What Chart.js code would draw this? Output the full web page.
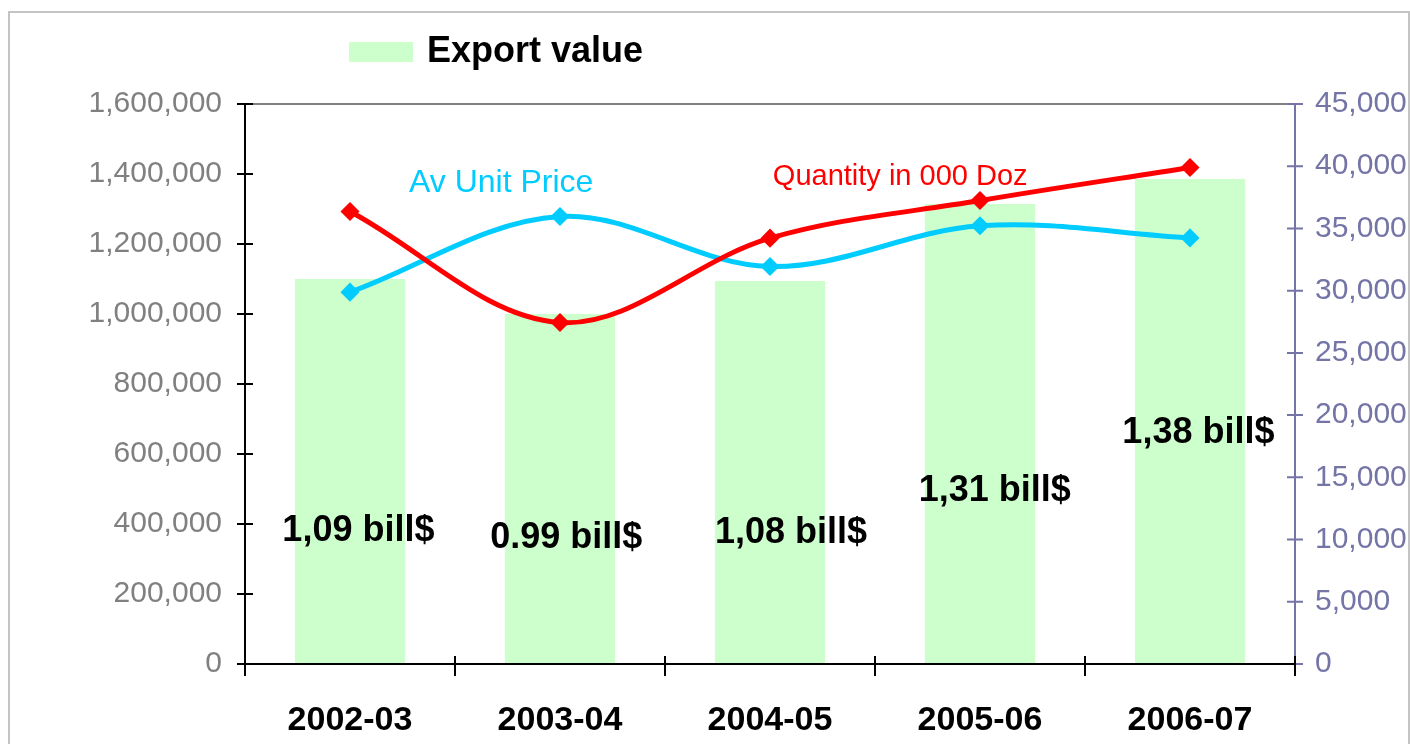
<!DOCTYPE html>
<html>
<head>
<meta charset="utf-8">
<script src="https://cdn.jsdelivr.net/npm/chart.js@4.4.1/dist/chart.umd.min.js"></script>
<style>
  html, body { margin: 0; padding: 0; background: #fff; }
  #wrap { width: 1410px; height: 744px; position: relative; }
</style>
</head>
<body>
<div id="wrap"><canvas id="chart" width="1410" height="744"></canvas></div>
<script>
const years = ['2002-03', '2003-04', '2004-05', '2005-06', '2006-07'];
const exportValue = [1100000, 1000000, 1094000, 1314000, 1386000];
const quantity = [36360, 27440, 34220, 37240, 39900];
const unitPrice = [29880, 35960, 31940, 35210, 34240];
const barNotes = ['1,09 bill$', '0.99 bill$', '1,08 bill$', '1,31 bill$', '1,38 bill$'];

const FONT = '"Liberation Sans", Arial, sans-serif';
const RIGHT_AXIS = '#7474a6';

// where the free text sits: category index (fractional) and axis value
const notePlaces = [
  { i: 0.04, v: 380000 }, { i: 1.03, v: 360000 }, { i: 2.10, v: 375000 },
  { i: 3.07, v: 495000 }, { i: 4.04, v: 660000 }
];

const decorPlugin = {
  id: 'decor',
  beforeDraw(chart) {
    const ctx = chart.ctx;
    ctx.save();
    ctx.strokeStyle = '#c4c4c4';
    ctx.lineWidth = 2;
    ctx.strokeRect(9, 12, 1400, 760);
    ctx.restore();
  },
  afterDatasetsDraw(chart) {
    const { ctx, chartArea: a, scales } = chart;
    const x = scales.x, y = scales.y, y1 = scales.y1;
    ctx.save();
    // top border of plot
    ctx.strokeStyle = '#808080';
    ctx.lineWidth = 2;
    ctx.beginPath();
    ctx.moveTo(a.left, a.top); ctx.lineTo(a.right, a.top);
    ctx.stroke();
    // left axis
    ctx.strokeStyle = '#000';
    ctx.beginPath();
    ctx.moveTo(a.left, a.top); ctx.lineTo(a.left, a.bottom);
    y.ticks.forEach(t => {
      const py = y.getPixelForValue(t.value);
      ctx.moveTo(a.left - 8, py); ctx.lineTo(a.left + 8, py);
    });
    ctx.stroke();
    // right axis
    ctx.strokeStyle = RIGHT_AXIS;
    ctx.beginPath();
    ctx.moveTo(a.right, a.top); ctx.lineTo(a.right, a.bottom);
    y1.ticks.forEach(t => {
      const py = y1.getPixelForValue(t.value);
      ctx.moveTo(a.right - 8, py); ctx.lineTo(a.right + 8, py);
    });
    ctx.stroke();
    // bottom axis
    ctx.strokeStyle = '#000';
    ctx.beginPath();
    ctx.moveTo(a.left - 8, a.bottom); ctx.lineTo(a.right, a.bottom);
    const half = (x.getPixelForValue(1) - x.getPixelForValue(0)) / 2;
    for (let i = 0; i <= years.length; i++) {
      const px = x.getPixelForValue(i) - half;
      ctx.moveTo(px, a.bottom - 8); ctx.lineTo(px, a.bottom + 12);
    }
    ctx.stroke();
    ctx.restore();
  },
  afterDraw(chart) {
    const { ctx, scales } = chart;
    const x = scales.x, y = scales.y, y1 = scales.y1;
    const step = (x.getPixelForValue(1) - x.getPixelForValue(0));
    const at = i => x.getPixelForValue(0) + i * step;
    ctx.save();
    ctx.textAlign = 'center';
    ctx.textBaseline = 'middle';
    ctx.fillStyle = '#000';
    ctx.font = 'bold 36px ' + FONT;
    barNotes.forEach((txt, k) => {
      ctx.fillText(txt, at(notePlaces[k].i), y.getPixelForValue(notePlaces[k].v));
    });
    ctx.font = '32px ' + FONT;
    ctx.fillStyle = '#00ccff';
    ctx.fillText(chart.data.datasets[2].label, at(0.72), y1.getPixelForValue(38660));
    ctx.font = '29px ' + FONT;
    ctx.fillStyle = '#ff0000';
    ctx.fillText(chart.data.datasets[1].label, at(2.62), y1.getPixelForValue(39150));
    // legend
    const bar = chart.data.datasets[0];
    ctx.fillStyle = bar.backgroundColor;
    ctx.fillRect(349, 42, 64, 20);
    ctx.fillStyle = '#000';
    ctx.font = 'bold 36px ' + FONT;
    ctx.textAlign = 'left';
    ctx.fillText(bar.label, 427, 52);
    ctx.restore();
  }
};

new Chart(document.getElementById('chart'), {
  type: 'bar',
  data: {
    labels: years,
    datasets: [
      {
        type: 'bar', label: 'Export value', data: exportValue, yAxisID: 'y',
        backgroundColor: '#ccffcc', borderWidth: 0,
        barPercentage: 0.525, categoryPercentage: 1, order: 3
      },
      {
        type: 'line', label: 'Quantity in 000 Doz', data: quantity, yAxisID: 'y1',
        borderColor: '#ff0000', backgroundColor: '#ff0000', borderWidth: 5,
        tension: 0.35, pointStyle: 'rectRot', pointRadius: 6, pointHoverRadius: 6, order: 1
      },
      {
        type: 'line', label: 'Av Unit Price', data: unitPrice, yAxisID: 'y1',
        borderColor: '#00ccff', backgroundColor: '#00ccff', borderWidth: 5,
        tension: 0.35, pointStyle: 'rectRot', pointRadius: 6, pointHoverRadius: 6, order: 2
      }
    ]
  },
  options: {
    responsive: false,
    animation: false,
    layout: { padding: { top: 104, left: 0, right: 0, bottom: 0 } },
    plugins: { legend: { display: false }, tooltip: { enabled: false } },
    scales: {
      x: {
        offset: true,
        grid: { display: false },
        border: { display: false },
        ticks: { color: '#000', font: { family: FONT, size: 34, weight: 'bold' }, padding: 28, maxRotation: 0 },
        afterFit(s) { s.height = 80; }
      },
      y: {
        position: 'left', min: 0, max: 1600000,
        grid: { display: false },
        border: { display: false },
        ticks: {
          stepSize: 200000, color: '#808080', padding: 15,
          font: { family: FONT, size: 30 },
          callback: v => v.toLocaleString('en-US')
        },
        afterFit(s) { s.width = 245; }
      },
      y1: {
        position: 'right', min: 0, max: 45000,
        grid: { display: false },
        border: { display: false },
        ticks: {
          stepSize: 5000, color: RIGHT_AXIS, padding: 12,
          font: { family: FONT, size: 30 },
          callback: v => v.toLocaleString('en-US')
        },
        afterFit(s) { s.width = 115; }
      }
    }
  },
  plugins: [decorPlugin]
});
</script>
</body>
</html>
